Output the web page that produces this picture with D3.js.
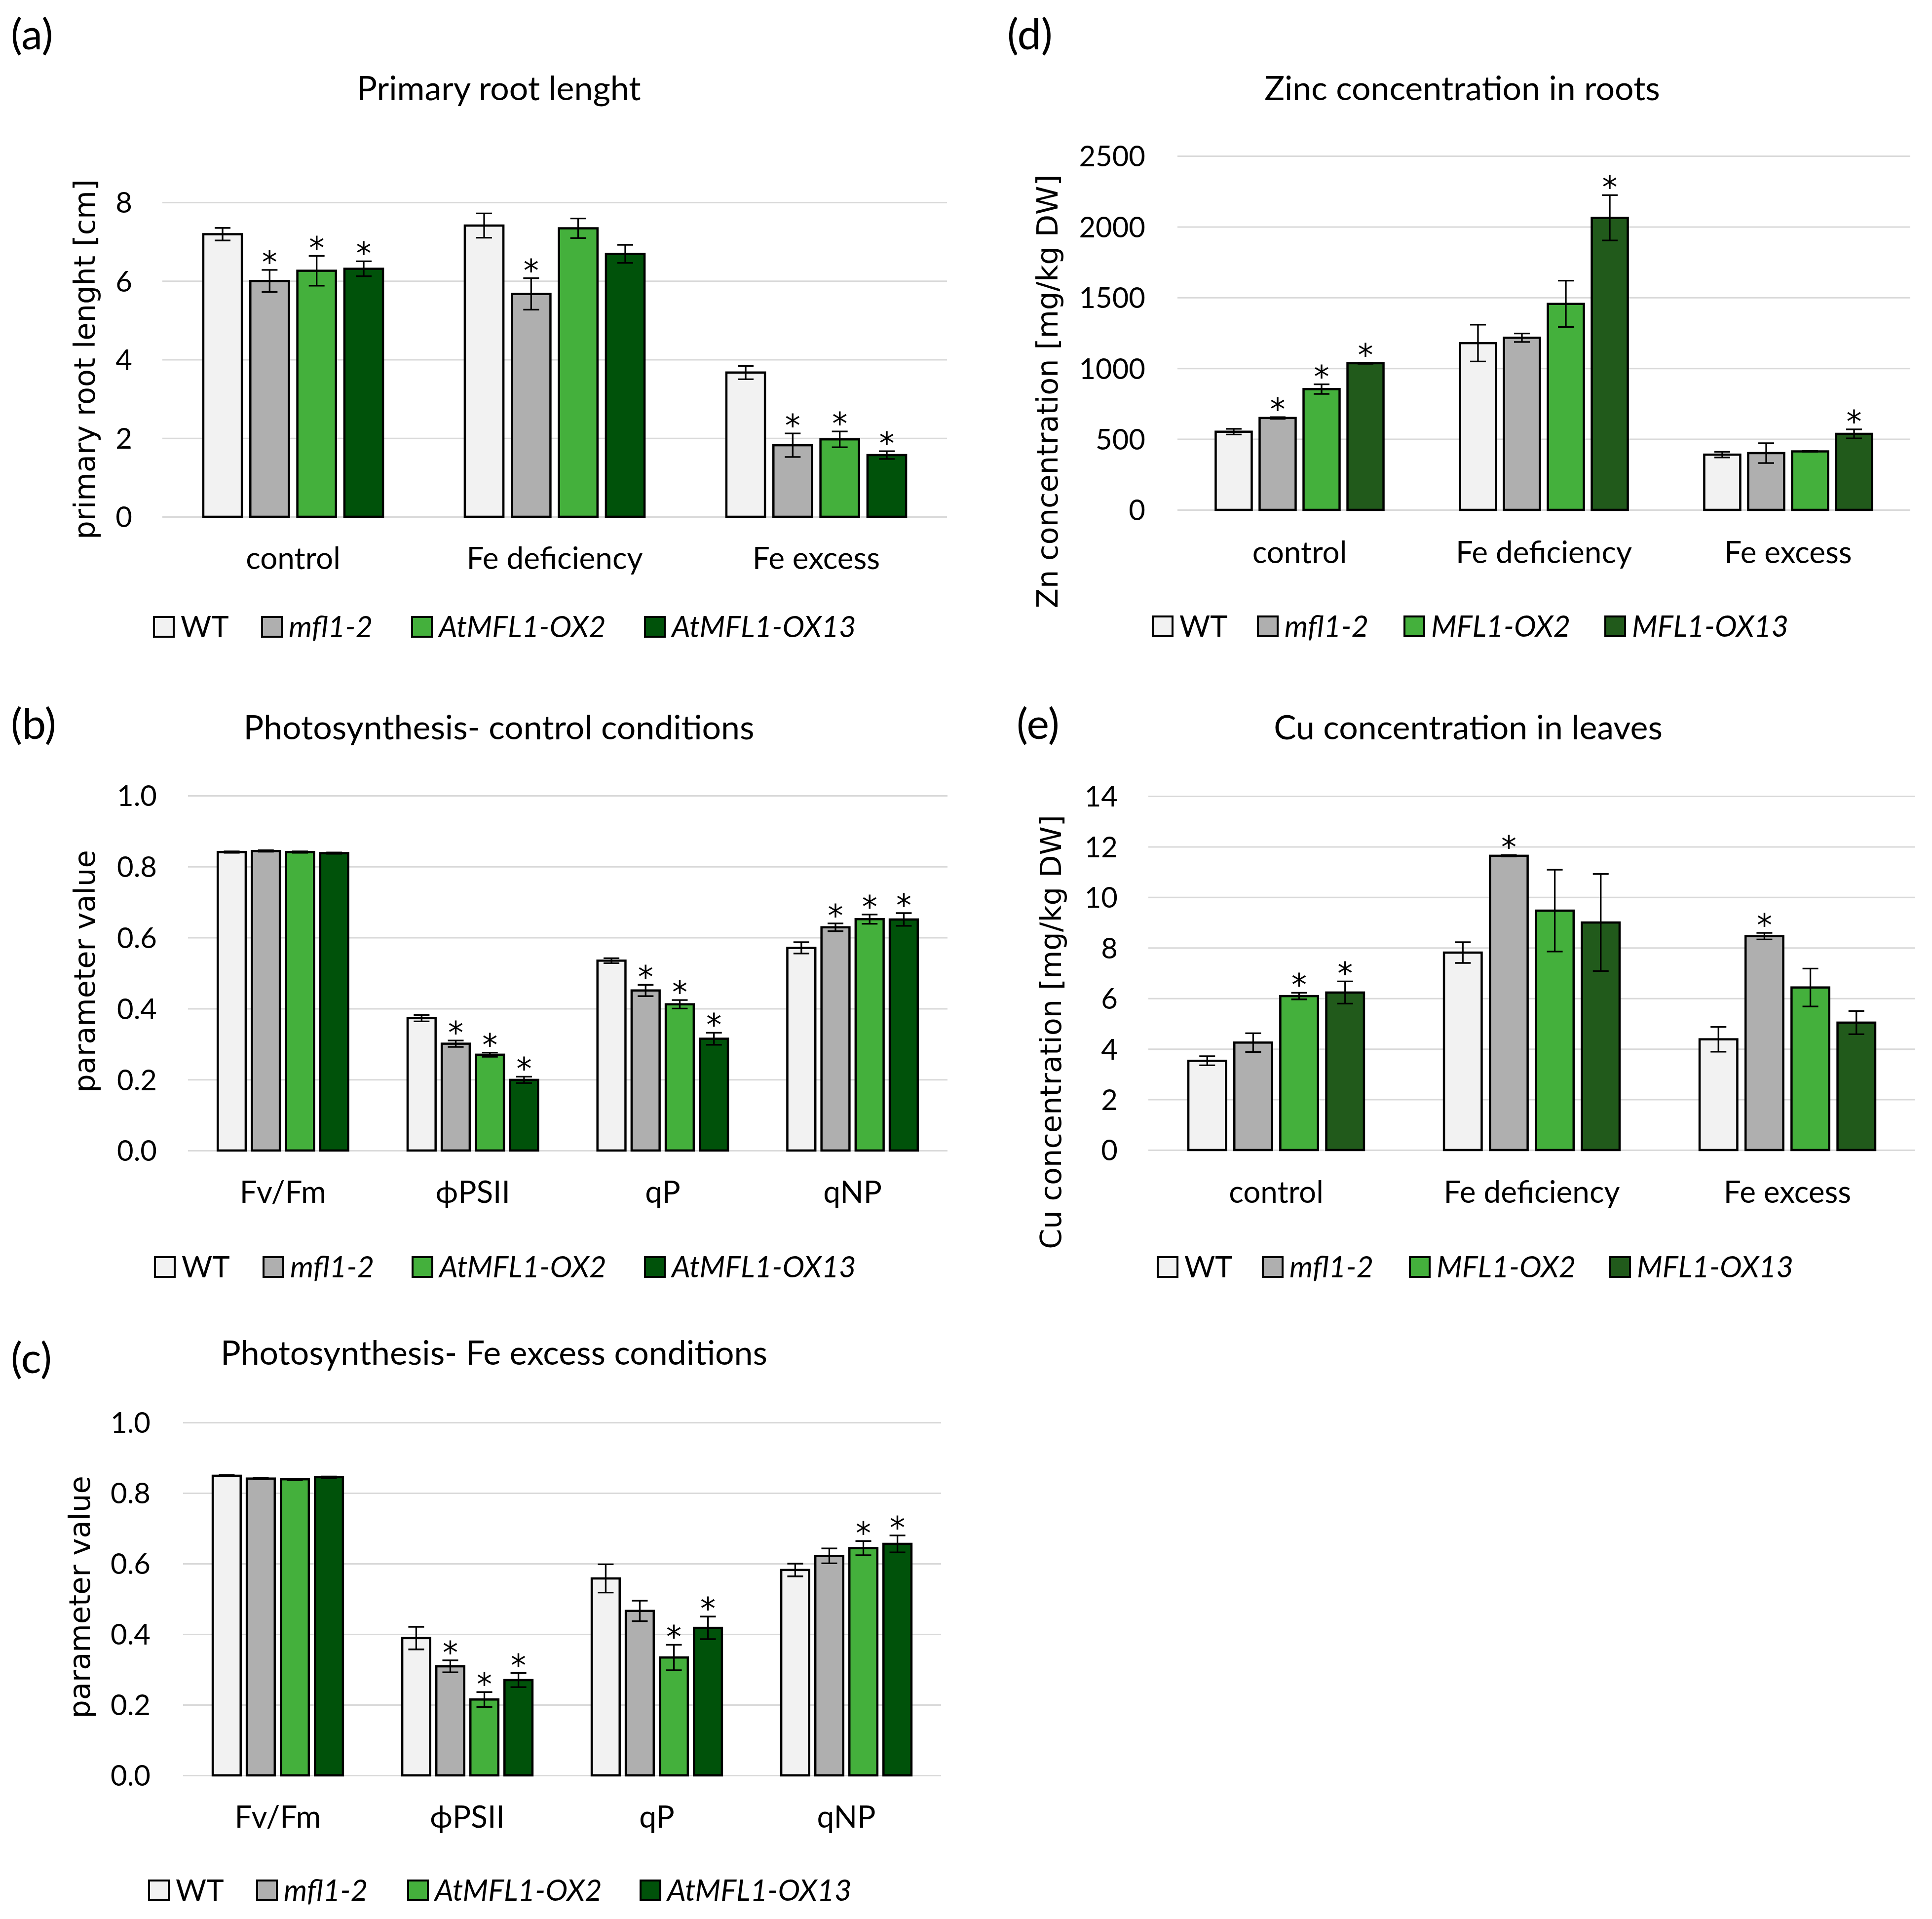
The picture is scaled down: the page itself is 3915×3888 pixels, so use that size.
<!DOCTYPE html>
<html>
<head>
<meta charset="utf-8">
<script src="https://cdn.jsdelivr.net/npm/d3@7"></script>
<style>
  body { margin: 0; background: #fff; }
  text { fill: #000; }
</style>
</head>
<body>
<svg id="fig"></svg>
<script>
const W = 3915, H = 3888;

// ---- data ----
const conditions = ["control", "Fe deficiency", "Fe excess"];
const parameters = ["Fv/Fm", "\u03D5PSII", "qP", "qNP"];
const linesAt = ["WT", "mfl1-2", "AtMFL1-OX2", "AtMFL1-OX13"];
const linesMFL = ["WT", "mfl1-2", "MFL1-OX2", "MFL1-OX13"];

// (a) primary root length [cm]; rows = conditions, cols = lines
const rootMean = [[7.19, 6.00, 6.26, 6.31], [7.41, 5.67, 7.34, 6.69], [3.67, 1.82, 1.97, 1.57]];
const rootErr  = [[0.16, 0.28, 0.38, 0.19], [0.31, 0.40, 0.25, 0.23], [0.17, 0.30, 0.20, 0.10]];
const rootStar = [[0, 1, 1, 1], [0, 1, 0, 0], [0, 1, 1, 1]];
const rootTicks = [0, 2, 4, 6, 8];

// (b) photosynthesis, control; rows = parameters
const photoCtrlMean = [[0.841, 0.844, 0.841, 0.838], [0.373, 0.301, 0.270, 0.199], [0.535, 0.451, 0.412, 0.315], [0.571, 0.629, 0.652, 0.651]];
const photoCtrlErr  = [[0.002, 0.002, 0.002, 0.002], [0.009, 0.009, 0.006, 0.009], [0.007, 0.016, 0.012, 0.017], [0.016, 0.011, 0.013, 0.018]];
const photoCtrlStar = [[0, 0, 0, 0], [0, 1, 1, 1], [0, 1, 1, 1], [0, 1, 1, 1]];

// (c) photosynthesis, Fe excess
const photoFeMean = [[0.849, 0.841, 0.839, 0.845], [0.389, 0.309, 0.215, 0.270], [0.558, 0.466, 0.334, 0.418], [0.582, 0.622, 0.644, 0.656]];
const photoFeErr  = [[0.002, 0.002, 0.002, 0.002], [0.032, 0.017, 0.021, 0.020], [0.040, 0.029, 0.036, 0.032], [0.018, 0.021, 0.020, 0.024]];
const photoFeStar = [[0, 0, 0, 0], [0, 1, 1, 1], [0, 0, 1, 1], [0, 0, 1, 1]];
const photoTicks = [0, 0.2, 0.4, 0.6, 0.8, 1.0];

// (d) Zn in roots [mg/kg DW]
const znMean = [[552, 649, 853, 1036], [1178, 1216, 1455, 2063], [390, 401, 413, 537]];
const znErr  = [[20, 6, 34, 4], [130, 30, 164, 160], [20, 70, 3, 32]];
const znStar = [[0, 1, 1, 1], [0, 0, 0, 1], [0, 0, 0, 1]];
const znTicks = [0, 500, 1000, 1500, 2000, 2500];

// (e) Cu in leaves [mg/kg DW]
const cuMean = [[3.53, 4.25, 6.09, 6.23], [7.81, 11.64, 9.47, 9.00], [4.38, 8.46, 6.43, 5.04]];
const cuErr  = [[0.18, 0.37, 0.13, 0.44], [0.41, 0.03, 1.62, 1.92], [0.49, 0.13, 0.75, 0.46]];
const cuStar = [[0, 0, 1, 1], [0, 1, 0, 0], [0, 1, 0, 0]];
const cuTicks = [0, 2, 4, 6, 8, 10, 12, 14];

// ---- styles ----
const colorsAt = ["#f2f2f2", "#afafaf", "#44b03c", "#00520a"];
const colorsMFL = ["#f2f2f2", "#afafaf", "#44b03c", "#215a1b"];
const LABEL_FONT = "Lato, 'Open Sans', sans-serif";
const YTITLE_FONT = "'DejaVu Sans', Verdana, sans-serif";

const svg = d3.select("#fig").attr("width", W).attr("height", H)
  .attr("viewBox", `0 0 ${W} ${H}`)
  .style("font-family", LABEL_FONT);

svg.append("rect").attr("width", W).attr("height", H).attr("fill", "#fff");

function drawPanel(p) {
  const g = svg.append("g");

  const x0 = d3.scaleBand().domain(p.groups).range([p.left, p.right]);
  const x1 = d3.scaleBand().domain(p.series).range([0, x0.bandwidth()])
    .paddingInner(0.18).paddingOuter(0.87);
  const y = d3.scaleLinear().domain([0, d3.max(p.ticks)]).range([p.bottom, p.top]);

  // gridlines
  g.append("g")
    .attr("transform", `translate(${p.left},0)`)
    .call(d3.axisLeft(y).tickValues(p.ticks).tickSize(-(p.right - p.left)).tickFormat(""))
    .call(a => a.select(".domain").remove())
    .call(a => a.selectAll("line").attr("stroke", "#d9d9d9").attr("stroke-width", 3));

  // tick labels
  g.append("g")
    .attr("transform", `translate(${p.tickX},0)`)
    .call(d3.axisLeft(y).tickValues(p.ticks).tickSize(0).tickPadding(0).tickFormat(p.fmt))
    .call(a => a.select(".domain").remove())
    .call(a => a.selectAll("text")
      .attr("font-family", LABEL_FONT).attr("font-size", 58).attr("fill", "#000")
      .attr("dy", "0.36em"));

  // bars
  const cells = [];
  p.groups.forEach((grp, gi) => {
    p.series.forEach((s, si) => {
      cells.push({ grp, s, si, v: p.mean[gi][si], e: p.err[gi][si], star: p.star[gi][si] });
    });
  });

  const bars = g.append("g").selectAll("g").data(cells).join("g")
    .attr("transform", d => `translate(${x0(d.grp) + x1(d.s)},0)`);

  bars.append("rect")
    .attr("x", 0)
    .attr("y", d => y(d.v))
    .attr("width", x1.bandwidth())
    .attr("height", d => y(0) - y(d.v))
    .attr("fill", d => p.colors[d.si])
    .attr("stroke", "#000")
    .attr("stroke-width", 4.5);

  const cx = x1.bandwidth() / 2, cap = 16;
  const eb = bars.append("g").attr("stroke", "#000").attr("stroke-width", 3.3);
  eb.append("line")
    .attr("x1", cx).attr("x2", cx)
    .attr("y1", d => y(d.v + d.e)).attr("y2", d => y(d.v - d.e));
  eb.append("line")
    .attr("x1", cx - cap).attr("x2", cx + cap)
    .attr("y1", d => y(d.v + d.e)).attr("y2", d => y(d.v + d.e));
  eb.append("line")
    .attr("x1", cx - cap).attr("x2", cx + cap)
    .attr("y1", d => y(d.v - d.e)).attr("y2", d => y(d.v - d.e));

  // significance asterisks
  bars.filter(d => d.star).append("text")
    .attr("x", cx)
    .attr("y", d => y(d.v + d.e) + 6)
    .attr("text-anchor", "middle")
    .attr("font-family", "'DejaVu Sans', sans-serif")
    .attr("font-size", 62)
    .text("*");

  // category labels
  g.append("g").selectAll("text").data(p.groups).join("text")
    .attr("x", d => x0(d) + x0.bandwidth() / 2)
    .attr("y", p.catY)
    .attr("text-anchor", "middle")
    .attr("font-size", 62)
    .text(d => d);

  // title and panel letter
  g.append("text")
    .attr("x", p.titleX).attr("y", p.titleY)
    .attr("text-anchor", "middle").attr("font-size", 68)
    .text(p.title);
  g.append("text")
    .attr("x", p.letterX).attr("y", p.letterY)
    .attr("font-size", 86)
    .text(p.letter);

  // y-axis title
  g.append("text")
    .attr("transform", `translate(${p.yTitleX},${p.yTitleY}) rotate(-90)`)
    .attr("text-anchor", "middle")
    .attr("font-family", YTITLE_FONT)
    .attr("font-size", 59)
    .text(p.yTitle);

  // legend
  const lg = g.append("g").selectAll("g").data(p.series).join("g")
    .attr("transform", (d, i) => `translate(${p.legendX[i]},${p.legendY})`);
  lg.append("rect")
    .attr("x", 0).attr("y", -20).attr("width", 40).attr("height", 40)
    .attr("fill", (d, i) => p.colors[i])
    .attr("stroke", "#000").attr("stroke-width", 4);
  lg.append("text")
    .attr("x", 54).attr("y", 21)
    .attr("font-size", 60)
    .attr("font-style", (d, i) => i === 0 ? "normal" : "italic")
    .text(d => d);
}

const fmtInt = d3.format("d");
const fmt1 = d3.format(".1f");

drawPanel({
  letter: "(a)", letterX: 22, letterY: 100,
  title: "Primary root lenght", titleX: 1011, titleY: 203,
  left: 329, right: 1919, top: 410, bottom: 1047,
  ticks: rootTicks, fmt: fmtInt, tickX: 268,
  groups: conditions, series: linesAt, colors: colorsAt,
  mean: rootMean, err: rootErr, star: rootStar,
  catY: 1153, legendY: 1270, legendX: [312, 531, 835, 1307],
  yTitle: "primary root lenght [cm]", yTitleX: 192, yTitleY: 728
});

drawPanel({
  letter: "(b)", letterX: 22, letterY: 1497,
  title: "Photosynthesis- control conditions", titleX: 1011, titleY: 1498,
  left: 381, right: 1920, top: 1612, bottom: 2331,
  ticks: photoTicks, fmt: fmt1, tickX: 318,
  groups: parameters, series: linesAt, colors: colorsAt,
  mean: photoCtrlMean, err: photoCtrlErr, star: photoCtrlStar,
  catY: 2437, legendY: 2567, legendX: [314, 534, 836, 1307],
  yTitle: "parameter value", yTitleX: 192, yTitleY: 1968
});

drawPanel({
  letter: "(c)", letterX: 22, letterY: 2782,
  title: "Photosynthesis- Fe excess conditions", titleX: 1001, titleY: 2765,
  left: 371, right: 1907, top: 2882, bottom: 3597,
  ticks: photoTicks, fmt: fmt1, tickX: 305,
  groups: parameters, series: linesAt, colors: colorsAt,
  mean: photoFeMean, err: photoFeErr, star: photoFeStar,
  catY: 3703, legendY: 3830, legendX: [302, 521, 827, 1298],
  yTitle: "parameter value", yTitleX: 182, yTitleY: 3236
});

drawPanel({
  letter: "(d)", letterX: 2041, letterY: 100,
  title: "Zinc concentration in roots", titleX: 2963, titleY: 203,
  left: 2386, right: 3871, top: 316, bottom: 1033,
  ticks: znTicks, fmt: fmtInt, tickX: 2321,
  groups: conditions, series: linesMFL, colors: colorsMFL,
  mean: znMean, err: znErr, star: znStar,
  catY: 1141, legendY: 1269, legendX: [2336, 2549, 2846, 3253],
  yTitle: "Zn concentration [mg/kg DW]", yTitleX: 2143, yTitleY: 793
});

drawPanel({
  letter: "(e)", letterX: 2060, letterY: 1497,
  title: "Cu concentration in leaves", titleX: 2975, titleY: 1498,
  left: 2327, right: 3881, top: 1613, bottom: 2330,
  ticks: cuTicks, fmt: fmtInt, tickX: 2265,
  groups: conditions, series: linesMFL, colors: colorsMFL,
  mean: cuMean, err: cuErr, star: cuStar,
  catY: 2437, legendY: 2567, legendX: [2346, 2559, 2857, 3263],
  yTitle: "Cu concentration [mg/kg DW]", yTitleX: 2150, yTitleY: 2091
});
</script>
</body>
</html>
